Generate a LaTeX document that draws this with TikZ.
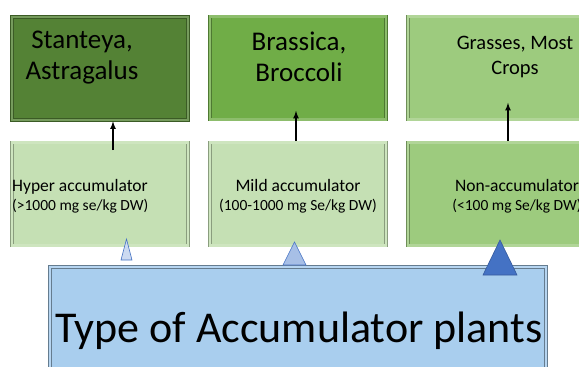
\documentclass[tikz,border=0pt]{standalone}
\usepackage{fontspec}
\setmainfont{Carlito}
\usepackage{xcolor}
\usetikzlibrary{calc}

\definecolor{darkleaf}{HTML}{548235}
\definecolor{midleaf}{HTML}{70AD47}
\definecolor{paleleaf}{HTML}{9DCB7E}
\definecolor{lightleaf}{HTML}{C5E0B4}
\definecolor{skybox}{HTML}{A9CEEE}
\definecolor{tripale}{HTML}{CCDAF1}
\definecolor{trimid}{HTML}{A7BFE6}
\definecolor{trideep}{HTML}{4472C4}

\tikzset{
  plantbox/.style={rectangle, minimum width=176pt, minimum height=103pt,
    line width=0.7pt, double distance=2.4pt, inner sep=0pt},
  bigtext/.style={font=\fontsize{27}{31}\selectfont, align=center, inner sep=0pt},
  smalltext/.style={font=\fontsize{15.5}{19}\selectfont, align=center, inner sep=0pt},
  uparrow/.style={->, line width=1.6pt, >=latex}
}
\newcommand{\firstline}[1]{{\fontsize{17.5}{19}\selectfont #1}}

\begin{document}
\begin{tikzpicture}[x=1pt,y=-1pt]
\useasboundingbox (0,0) rectangle (579,367);
\clip (0,0) rectangle (579,367);
\fill[white] (0,0) rectangle (579,367);
\node[plantbox, fill=darkleaf, draw=darkleaf!70!black, double=darkleaf!80!white] (stanteyabox) at (100,68.5) {};
\node[plantbox, fill=midleaf, draw=midleaf!70!black, double=midleaf!80!white] (brassicabox) at (298,68) {};
\node[plantbox, fill=paleleaf, draw=paleleaf!70!black, double=paleleaf!80!white] (grassbox) at (496,68) {};
\node[plantbox, fill=lightleaf, draw=lightleaf!70!black, double=lightleaf!85!white] (hyperbox) at (100,194) {};
\node[plantbox, fill=lightleaf, draw=lightleaf!70!black, double=lightleaf!85!white] (mildbox) at (298,194) {};
\node[plantbox, fill=paleleaf, draw=paleleaf!70!black, double=paleleaf!80!white] (nonbox) at (496,194) {};
\node[plantbox, minimum width=496pt, minimum height=120pt, fill=skybox,
  draw=skybox!60!black, double=skybox!85!white] (typebox) at (298,327) {};
\node[bigtext] (stanteya) at (82,57.5) {Stanteya,\\Astragalus};
\node[bigtext] (brassica) at (299,57) {Brassica,\\Broccoli};
\node[font=\fontsize{20.5}{25}\selectfont, align=center, inner sep=0pt] (grasses) at (515,56.5) {Grasses, Most\\Crops};
\node[smalltext, align=left, anchor=west] (hyper) at (12,196) {\firstline{Hyper accumulator}\\(>1000 mg se/kg DW)};
\node[smalltext] (mild) at (298,196) {\firstline{Mild accumulator}\\(100-1000 mg Se/kg DW)};
\node[smalltext] (nonacc) at (517,196) {\firstline{Non-accumulator}\\(<100 mg Se/kg DW)};
\node[font=\fontsize{44}{50}\selectfont, inner sep=0pt] (typeof) at (299,331) {Type of Accumulator plants};
\draw[uparrow] ([xshift=13pt,yshift=-8pt]hyperbox.north) -- ([xshift=13pt,yshift=-1pt]stanteyabox.south);
\draw[uparrow] ([xshift=-2pt,yshift=1pt]mildbox.north) -- ([xshift=-2pt,yshift=9pt]brassicabox.south);
\draw[uparrow] ([xshift=12pt,yshift=1pt]nonbox.north) -- ([xshift=12pt,yshift=17pt]grassbox.south);
\filldraw[fill=tripale, draw=trideep, line width=0.6pt] (121,260) -- (126.5,239) -- (132,260) -- cycle;
\filldraw[fill=trimid, draw=trideep, line width=0.6pt] (283,265) -- (294.5,242) -- (306,265) -- cycle;
\filldraw[fill=trideep, draw=trideep!80!black, line width=0.6pt] (483,275) -- (500,240) -- (517,275) -- cycle;
\end{tikzpicture}
\end{document}
